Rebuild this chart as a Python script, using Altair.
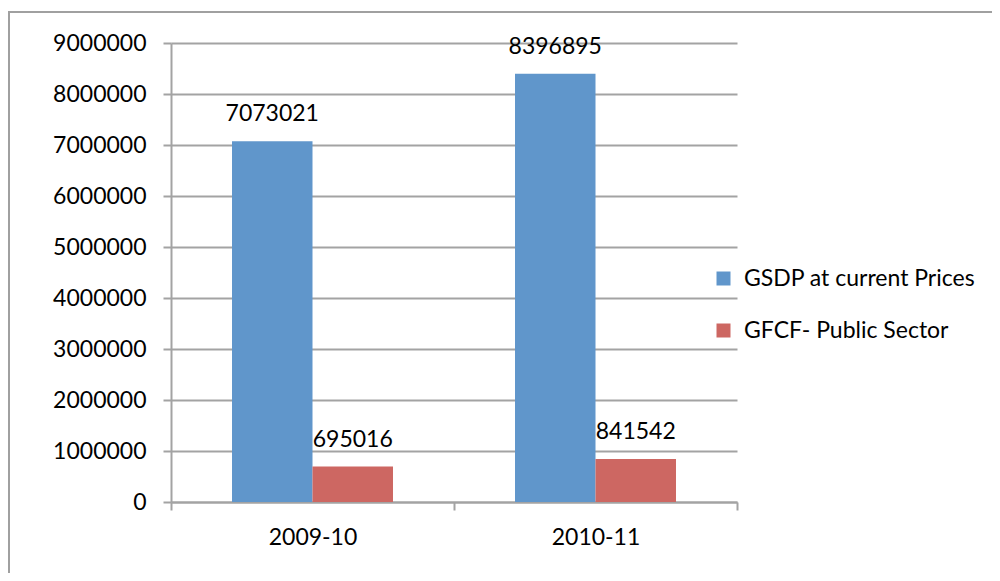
import altair as alt
import pandas as pd

years = ["2009-10", "2010-11"]
series = ["GSDP at current Prices", "GFCF- Public Sector"]
gsdp = [7073021, 8396895]
gfcf = [695016, 841542]
colors = ["#6096CB", "#CD6762"]
y_ticks = [0, 1000000, 2000000, 3000000, 4000000, 5000000, 6000000, 7000000, 8000000, 9000000]

rows = []
for i, yr in enumerate(years):
    rows.append({"year": yr, "series": series[0], "value": gsdp[i]})
    rows.append({"year": yr, "series": series[1], "value": gfcf[i]})
df = pd.DataFrame(rows)

FONT = "Lato"
GRID = "#A3A3A3"

x_enc = alt.X(
    "year:N",
    sort=years,
    title=None,
    scale=alt.Scale(paddingInner=0, paddingOuter=0),
    axis=alt.Axis(
        labelAngle=0,
        labelFont=FONT,
        labelFontSize=23,
        labelColor="black",
        labelPadding=16,
        tickBand="extent",
        tickSize=8,
        tickColor=GRID,
        tickWidth=2,
        domainColor=GRID,
        domainWidth=2,
        grid=False,
    ),
)
y_enc = alt.Y(
    "value:Q",
    title=None,
    scale=alt.Scale(domain=[0, 9000000], nice=False),
    axis=alt.Axis(
        values=y_ticks,
        format="d",
        labelFont=FONT,
        labelFontSize=23,
        labelColor="black",
        labelPadding=17,
        tickSize=8,
        tickColor=GRID,
        tickWidth=2,
        domainColor=GRID,
        domainWidth=2,
        grid=True,
        gridColor=GRID,
        gridWidth=2,
    ),
)
xoff = alt.XOffset("series:N", sort=series, scale=alt.Scale(paddingInner=0, paddingOuter=0.758))

bars = alt.Chart(df).mark_bar().encode(
    x=x_enc,
    xOffset=xoff,
    y=y_enc,
    color=alt.Color(
        "series:N",
        sort=series,
        scale=alt.Scale(domain=series, range=colors),
        legend=alt.Legend(
            title=None,
            orient="none",
            legendX=541,
            legendY=224,
            symbolType="square",
            symbolSize=196,
            symbolStrokeWidth=0,
            labelFont=FONT,
            labelFontSize=23,
            labelColor="black",
            labelOffset=9,
            labelLimit=0,
            rowPadding=28,
            padding=0,
        ),
    ),
)

labels = alt.Chart(df).mark_text(
    font=FONT, fontSize=23, color="black", dy=-20, baseline="alphabetic", align="center"
).encode(
    x=alt.X("year:N", sort=years),
    xOffset=xoff,
    y="value:Q",
    text=alt.Text("value:Q", format="d"),
)

border = alt.Chart(pd.DataFrame({"a": [0]})).mark_rect(
    fill="transparent", stroke="#A0A0A0", strokeWidth=2
).encode(
    x=alt.value(-162), x2=alt.value(900), y=alt.value(-31), y2=alt.value(700)
)

chart = alt.layer(border, bars, labels).properties(
    width=566,
    height=459,
    autosize=alt.AutoSizeParams(type="none"),
    padding={"left": 163, "top": 35, "right": 255, "bottom": 71},
).configure_view(stroke=None)

chart.save("out.html", embed_options={"renderer": "svg", "actions": False})
